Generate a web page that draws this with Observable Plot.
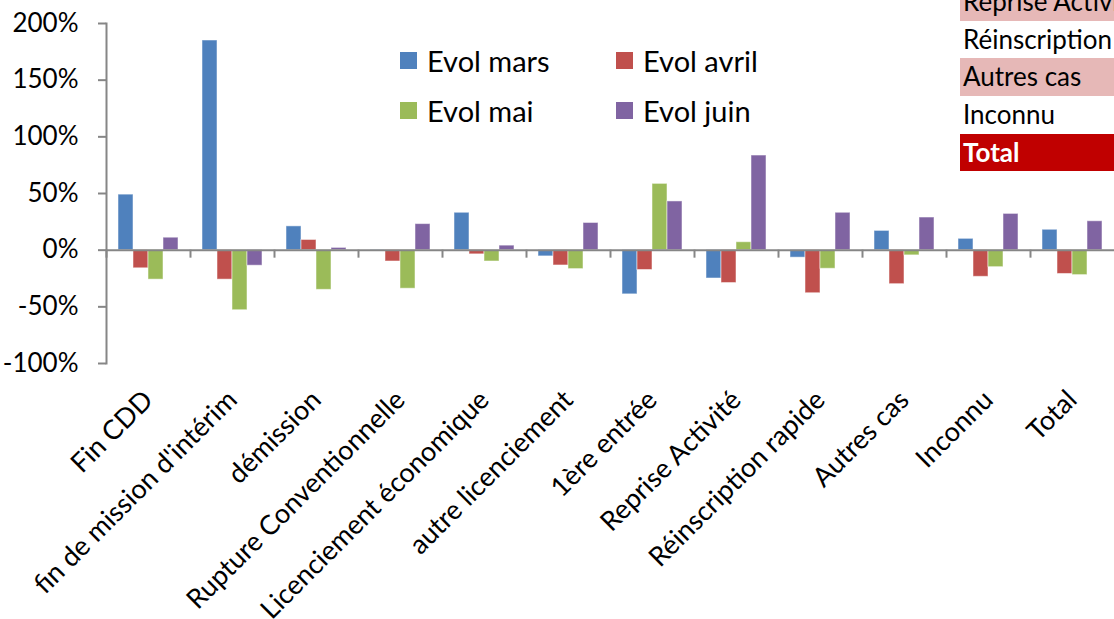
<!DOCTYPE html>
<html><head><meta charset="utf-8">
<script src="https://cdn.jsdelivr.net/npm/d3@7"></script>
<script src="https://cdn.jsdelivr.net/npm/@observablehq/plot@0.6"></script>
<style>
body{margin:0;background:#fff;font-family:Lato,sans-serif}
#wrap{position:relative;width:1114px;height:619px;overflow:hidden;background:#fff}
#legend{position:absolute;left:400px;top:43px;font-size:29px;color:#000}
.li{position:absolute;white-space:nowrap;display:flex;align-items:center}
.sw{width:17px;height:17px;margin-right:10px}
#table{position:absolute;left:960px;top:-17px;width:200px;font-size:26px}
.tr{height:37.7px;line-height:37.7px;padding-left:3px;white-space:nowrap;color:#000}
</style></head><body><div id="wrap"><div id="legend"></div><div id="table"></div></div>
<script>
const categories = ["Fin CDD","fin de mission d'intérim","démission","Rupture Conventionnelle","Licenciement économique","autre licenciement","1ère entrée","Reprise Activité","Réinscription rapide","Autres cas","Inconnu","Total"];
const seriesNames = ["Evol mars","Evol avril","Evol mai","Evol juin"];
const seriesColors = ["#4F81BD","#C0504D","#9BBB59","#8064A2"];
const evolMars  = [0.49, 1.85, 0.21, 0.004, 0.33, -0.055, -0.39, -0.25, -0.066, 0.17, 0.10, 0.18];
const evolAvril = [-0.16, -0.26, 0.09, -0.10, -0.037, -0.135, -0.175, -0.29, -0.38, -0.30, -0.235, -0.21];
const evolMai   = [-0.26, -0.53, -0.35, -0.34, -0.10, -0.167, 0.585, 0.07, -0.164, -0.046, -0.15, -0.22];
const evolJuin  = [0.11, -0.137, 0.02, 0.23, 0.04, 0.24, 0.43, 0.835, 0.33, 0.288, 0.32, 0.255];
const yTicks = [-1, -0.5, 0, 0.5, 1, 1.5, 2];
const tableRows = ["Reprise Activité","Réinscription rapide","Autres cas","Inconnu","Total"];
const tableBg = ["#E6B8B7","#FFFFFF","#E6B8B7","#FFFFFF","#C00000"];

const seriesArrays = [evolMars, evolAvril, evolMai, evolJuin];
const data = categories.flatMap((c, i) => seriesArrays.map((arr, j) => ({cat: c, series: seriesNames[j], value: arr[i]})));

const W = 1114, H = 619, mL = 106, mR = 0, mT = 23, mB = 256;
const yDomain = [-1, 2];
const plotH = H - mT - mB;
const halfBand = (W - mL - mR) / categories.length / 2;
const tickLenData = 8 * (yDomain[1] - yDomain[0]) / plotH;

const chart = Plot.plot({
  width: W, height: H, marginLeft: mL, marginRight: mR, marginTop: mT, marginBottom: mB,
  style: {fontFamily: "Lato, sans-serif", fontSize: "26px", color: "#000", background: "transparent", overflow: "visible"},
  fx: {domain: categories, padding: 0, label: null, axis: null},
  x: {domain: seriesNames, paddingInner: 0, paddingOuter: 0.8, axis: null},
  y: {domain: yDomain, label: null},
  color: {domain: seriesNames, range: seriesColors},
  marks: [
    Plot.barY(data, {fx: "cat", x: "series", y: "value", fill: "series", stroke: "#fff", strokeOpacity: 0.5, strokeWidth: 1}),
    Plot.ruleY([0], {stroke: "#868686", strokeWidth: 2}),
    Plot.ruleX(categories, {fx: d => d, x: null, y1: 0, y2: -tickLenData, dx: -halfBand, stroke: "#868686", strokeWidth: 2}),
    Plot.frame({anchor: "left", facetAnchor: "left", stroke: "#868686", strokeWidth: 2}),
    Plot.axisY({ticks: yTicks, tickFormat: d => Math.round(d * 100) + "%", tickSize: 8, tickPadding: 20, stroke: "#868686", strokeWidth: 2, label: null, fontSize: 26}),
    Plot.axisFx({anchor: "bottom", tickSize: 0, tickRotate: -45, tickPadding: 32, label: null, fontSize: 27})
  ]
});
document.getElementById("wrap").prepend(chart);

// legend
const legend = document.getElementById("legend");
seriesNames.forEach((s, i) => {
  const d = document.createElement("div");
  d.className = "li";
  d.style.left = (i % 2) * 216 + "px";
  d.style.top = Math.floor(i / 2) * 50 + "px";
  d.innerHTML = `<span class="sw" style="background:${seriesColors[i]}"></span><span>${s}</span>`;
  legend.appendChild(d);
});
// table
const table = document.getElementById("table");
tableRows.forEach((r, i) => {
  const d = document.createElement("div");
  d.className = "tr";
  d.style.background = tableBg[i];
  if (i === tableRows.length - 1) { d.style.color = "#fff"; d.style.fontWeight = "bold"; }
  d.textContent = r;
  table.appendChild(d);
});
</script></body></html>
